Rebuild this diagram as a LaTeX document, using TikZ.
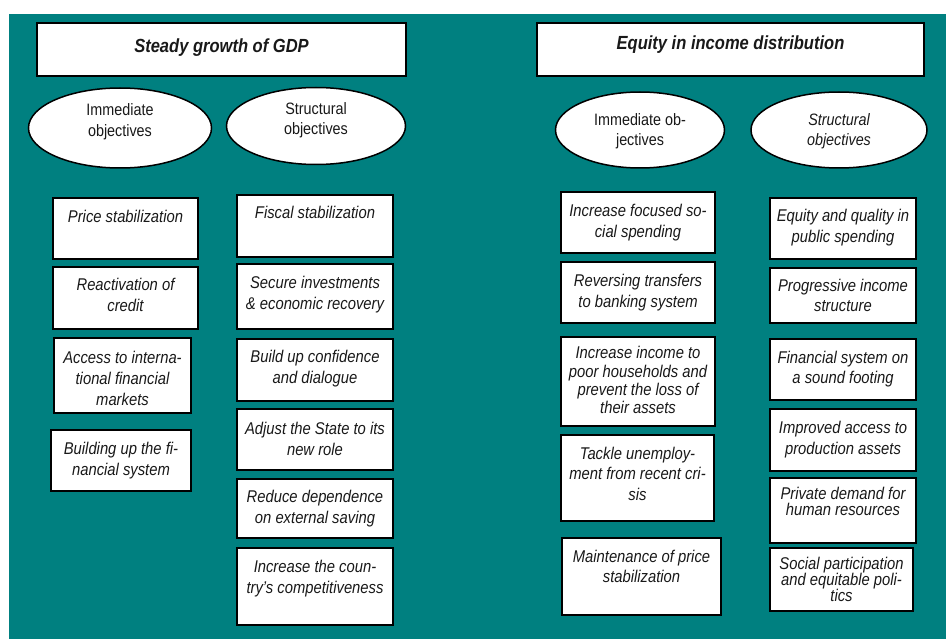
\documentclass[tikz,border=0pt]{standalone}
\usepackage{fontspec}
\setmainfont[FakeStretch=0.87]{Liberation Sans}
\usetikzlibrary{shapes.geometric}
\definecolor{teal}{RGB}{0,128,128}
\definecolor{ink}{RGB}{25,25,25}
\tikzset{
  obj/.style={draw=black, line width=1.5pt, fill=white, rectangle, inner sep=0pt, outer sep=0pt, text=ink},
  ell/.style={draw=black, line width=1.5pt, fill=white, ellipse, inner sep=0pt, outer sep=0pt, text=ink},
}
% name, x, y, w, h, first baseline, baselineskip, text
\newcommand\obox[8]{\node[obj, anchor=north west] (#1) at (#2,#3)
  {\parbox[c][#5pt][t]{#4pt}{\centering\fontsize{17}{#7}\selectfont\itshape\rule{0pt}{#6pt}#8}};}
% name, cx, cy, w, h, first baseline (from content top), baselineskip, text
\newcommand\oell[8]{\node[ell, minimum width=#4pt, minimum height=#5pt] (#1) at (#2,#3)
  {\parbox[c][50pt][t]{110pt}{\centering\fontsize{16.5}{#7}\selectfont\rule{0pt}{#6pt}#8}};}
\begin{document}
\begin{tikzpicture}[x=1pt,y=-1pt]
\useasboundingbox (0,0) rectangle (946,639);
\fill[white] (0,0) rectangle (946,639);
\fill[teal] (9,14) rectangle (946,639);

% titles
\node[obj, anchor=north west] (t1) at (37,23)
  {\parbox[c][53pt][t]{369pt}{\centering\fontsize{19}{23}\selectfont\bfseries\itshape\rule{0pt}{30pt}Steady growth of GDP}};
\node[obj, anchor=north west] (t2) at (537,23)
  {\parbox[c][53pt][t]{387pt}{\centering\fontsize{19}{23}\selectfont\bfseries\itshape\rule{0pt}{27pt}Equity in income distribution}};

% ellipses
\oell{e1}{120}{128}{183}{80}{13}{21}{Immediate\\objectives}
\oell{e2}{316}{126}{179}{77}{14}{20}{Structural\\objectives}
\oell{e3}{640}{130}{169}{76}{21}{20}{Immediate ob-\\jectives}
\oell{e4}{839}{130}{176}{76}{21}{20}{\itshape Structural\\objectives}

% left column 1
\obox{p1}{53}{198}{145}{61}{25}{21}{Price stabilization}
\obox{p2}{53}{267}{145}{62}{24}{21}{Reactivation of\\credit}
\obox{p3}{54}{338}{137}{75}{25}{21}{Access to interna-\\tional financial\\markets}
\obox{p4}{51}{430}{140}{61}{24}{21}{Building up the fi-\\nancial system}

% left column 2
\obox{s1}{237}{195}{156}{62}{24}{21}{Fiscal stabilization}
\obox{s2}{237}{264}{156}{65}{25}{21}{Secure investments\\\& economic recovery}
\obox{s3}{237}{339}{156}{62}{24}{21}{Build up confidence\\and dialogue}
\obox{s4}{237}{409}{156}{61}{25}{21}{Adjust the State to its\\new role}
\obox{s5}{237}{479}{156}{59}{23}{21}{Reduce dependence\\on external saving}
\obox{s6}{237}{548}{156}{77}{24}{21}{Increase the coun-\\try’s competitiveness}

% right column 1
\obox{r1}{561}{192}{154}{61}{25}{21}{Increase focused so-\\cial spending}
\obox{r2}{561}{262}{154}{61}{24}{21}{Reversing transfers\\to banking system}
\obox{r3}{561}{337}{154}{89}{22}{18.3}{Increase income to\\poor households and\\prevent the loss of\\their assets}
\obox{r4}{561}{435}{153}{86}{24}{20.8}{Tackle unemploy-\\ment from recent cri-\\sis}
\obox{r5}{562}{538}{159}{77}{24}{20.7}{Maintenance of price\\stabilization}

% right column 2
\obox{q1}{770}{198}{146}{61}{24}{20.7}{Equity and quality in\\public spending}
\obox{q2}{770}{268}{146}{55}{24}{20}{Progressive income\\structure}
\obox{q3}{770}{339}{146}{61}{24}{20}{Financial system on\\a sound footing}
\obox{q4}{770}{409}{146}{62}{24}{21}{Improved access to\\production assets}
\obox{q5}{770}{478}{146}{65}{21}{16.7}{Private demand for\\human resources}
\obox{q6}{770}{548}{143}{63}{21}{16}{Social participation\\and equitable poli-\\tics}
\end{tikzpicture}
\end{document}
